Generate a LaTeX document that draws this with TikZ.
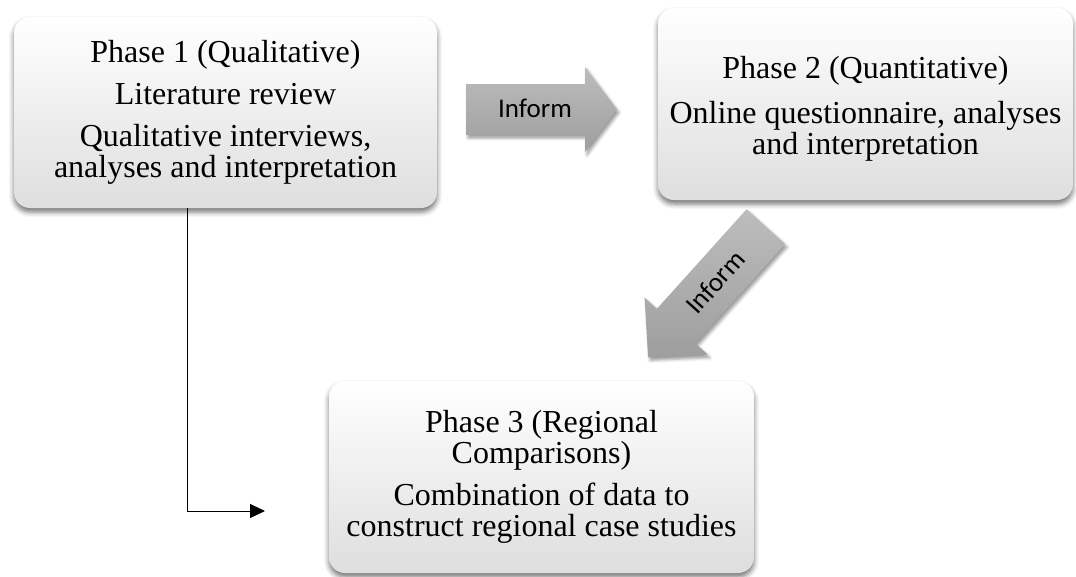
\documentclass[tikz,border=0pt]{standalone}
\usepackage{fontspec}
\setmainfont{Liberation Serif}
\newfontfamily\calibri{Carlito}
\usetikzlibrary{shadows.blur,arrows.meta}

\begin{document}
\begin{tikzpicture}[x=1pt,y=-1pt,
  phase/.style={rounded corners=16pt, top color=white, bottom color=black!13,
    blur shadow={shadow xshift=0pt, shadow yshift=-4pt, shadow blur radius=5pt, shadow opacity=55},
    align=center, inner sep=0pt, font=\fontsize{32}{31}\selectfont},
  blockarrow/.style={top color=black!26, bottom color=black!38,
    blur shadow={shadow xshift=2pt, shadow yshift=-3pt, shadow blur radius=3pt, shadow opacity=40}},
  inform/.style={font=\calibri\fontsize{27}{30}\selectfont, inner sep=0pt},
  link/.style={line width=1pt, black, -{Triangle[length=15pt,width=14pt]}}
  ]
\useasboundingbox (0,0) rectangle (1076,576);

% the three phases
\node[phase, minimum width=423pt, minimum height=191pt] (p1) at (225.5,112.5)
  {Phase 1 (Qualitative)\\[11pt]Literature review\\[11pt]Qualitative interviews,\\analyses and interpretation};
\node[phase, minimum width=415pt, minimum height=192pt] (p2) at (865.5,104)
  {\rule{0pt}{32pt}Phase 2 (Quantitative)\\[14pt]Online questionnaire, analyses\\and interpretation};
\node[phase, minimum width=425pt, minimum height=192pt] (p3) at (541.5,477)
  {Phase 3 (Regional\\Comparisons)\\[11pt]Combination of data to\\construct regional case studies};

% block arrow from phase 1 to phase 2
\begin{scope}[shift={(541.5,109.5)}]
  \path[blockarrow] (-75.5,-25.5) -- (43.5,-25.5) -- (43.5,-42.5) -- (75.5,0)
    -- (43.5,42.5) -- (43.5,25.5) -- (-75.5,25.5) -- cycle;
\end{scope}
\node[inform] (inf1) at (535,108) {Inform};

% block arrow from phase 2 to phase 3
\begin{scope}[shift={(707,292)}, rotate=228]
  \path[blockarrow] (-88,-26) -- (46,-26) -- (46,-42.5) -- (88,0)
    -- (46,42.5) -- (46,26) -- (-88,26) -- cycle;
\end{scope}
\node[inform, rotate=48] (inf2) at (715,282) {Inform};

% elbow link from phase 1 down towards phase 3
\coordinate (lnk) at (265,511);
\draw[link] ([xshift=174pt]p1.south west) |- (lnk);
\end{tikzpicture}
\end{document}
